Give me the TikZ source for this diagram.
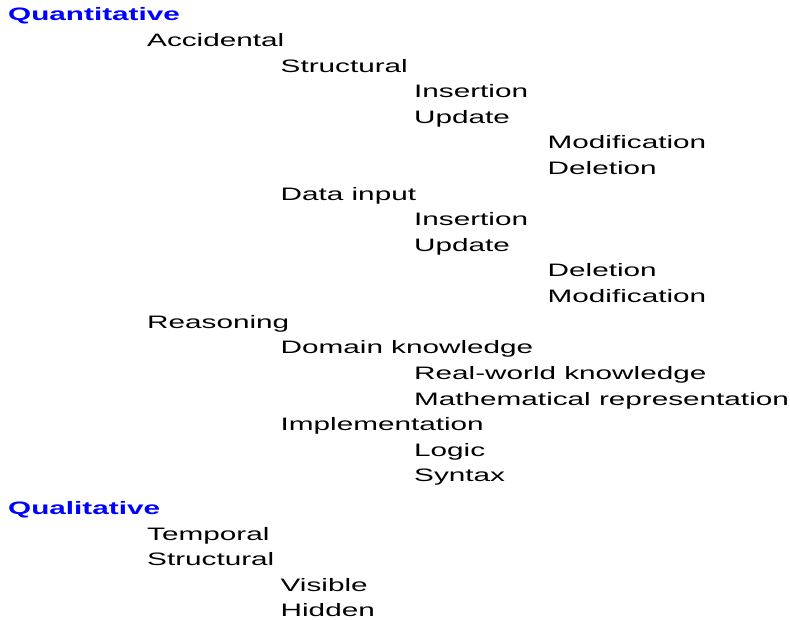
\documentclass[tikz,border=0pt]{standalone}
\usepackage{fontspec}
\setmainfont{Liberation Sans}
\usepackage{tikz}

\newcommand{\widetext}[1]{\scalebox{1.65}[1]{#1}}
\tikzset{
  entry/.style={anchor=base west, inner sep=0pt, font=\fontsize{18}{18}\selectfont, text=black},
  head/.style={entry, font=\fontsize{18}{18}\selectfont\bfseries, text=blue},
}

\begin{document}
\begin{tikzpicture}[x=1pt, y=-1pt]
\useasboundingbox (0,0) rectangle (790,620);
% first branch
\node[head] (quant) at (8,21) {\widetext{Quantitative}};
\foreach \lvl/\row/\lab in {1/1/Accidental, 2/2/Structural, 3/3/Insertion, 3/4/Update,
    4/5/Modification, 4/6/Deletion, 2/7/Data input, 3/8/Insertion, 3/9/Update,
    4/10/Deletion, 4/11/Modification, 1/12/Reasoning, 2/13/Domain knowledge,
    3/14/Real-world knowledge, 3/15/Mathematical representation, 2/16/Implementation,
    3/17/Logic, 3/18/Syntax} {
  \pgfmathsetmacro{\x}{147+133.5*(\lvl-1)}
  \pgfmathsetmacro{\y}{21+25.6*\row}
  \node[entry] (quant-\row) at (\x,\y) {\widetext{\lab}};
}
% second branch
\node[head] (qual) at (8,514) {\widetext{Qualitative}};
\foreach \lvl/\row/\lab in {1/0/Temporal, 1/1/Structural, 2/2/Visible, 2/3/Hidden} {
  \pgfmathsetmacro{\x}{147+133.5*(\lvl-1)}
  \pgfmathsetmacro{\y}{540+25.6*\row}
  \node[entry] (qual-\row) at (\x,\y) {\widetext{\lab}};
}
\end{tikzpicture}
\end{document}
